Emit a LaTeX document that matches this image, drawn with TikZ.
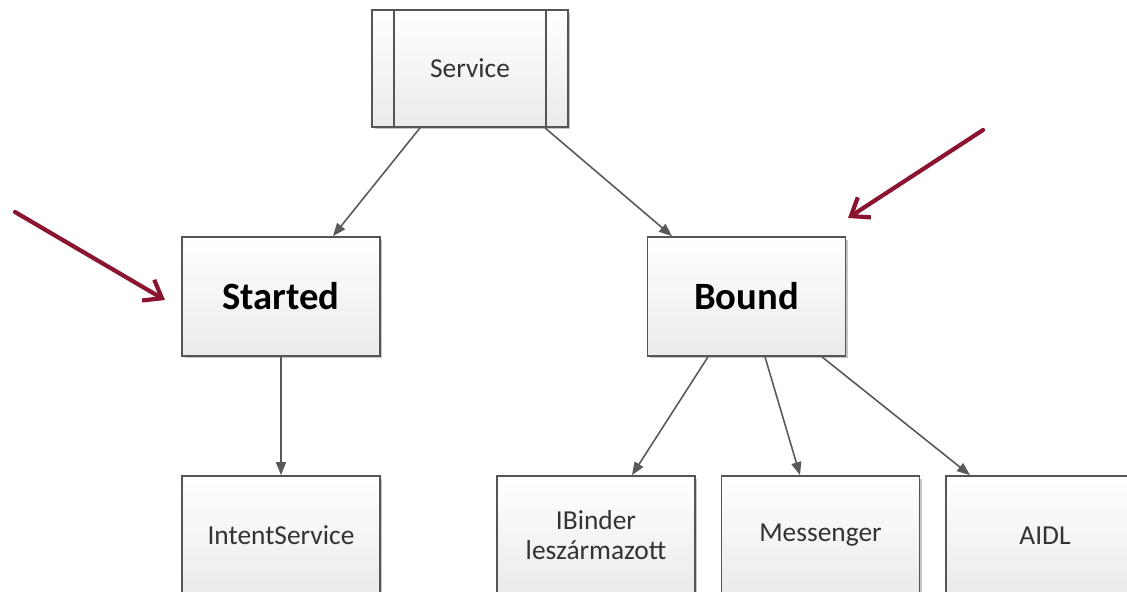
\documentclass[tikz,border=0pt]{standalone}
\usepackage{fontspec}
\setmainfont{Carlito}
\usetikzlibrary{arrows.meta, shadows}

\definecolor{boxline}{HTML}{555555}
\definecolor{redarrow}{HTML}{8B1530}

\tikzset{
  box/.style={draw=boxline, line width=1pt, minimum width=3.96cm, minimum height=2.38cm,
    top color=white, bottom color=black!8, align=center, text=black!80,
    font=\fontsize{15.6}{17}\selectfont,
    drop shadow={shadow xshift=0.05cm, shadow yshift=-0.05cm, fill=black!45, opacity=.5}},
  bigbox/.style={box, font=\fontsize{22}{24}\selectfont\bfseries, text=black},
  conn/.style={draw=black!65, line width=0.9pt, -{Triangle[length=0.26cm,width=0.2cm]}},
  pointer/.style={draw=redarrow, line width=2.4pt, line cap=round,
    -{Straight Barb[length=0.32cm,width=0.48cm,line width=2.4pt]}}
}

\begin{document}
\begin{tikzpicture}[x=0.02cm, y=-0.02cm]
\clip (0,0) rectangle (1127,592);
\useasboundingbox (0,0) rectangle (1127,592);

% top level
\node[box, minimum width=3.92cm, minimum height=2.34cm] (serv) at (470,68.5) {Service};
\draw[boxline, line width=1pt] ([xshift=0.46cm]serv.north west) -- ([xshift=0.46cm]serv.south west);
\draw[boxline, line width=1pt] ([xshift=-0.46cm]serv.north east) -- ([xshift=-0.46cm]serv.south east);

% the two kinds
\node[bigbox] (started) at (281,296.5) {Started};
\node[bigbox] (bound) at (746.5,296.5) {Bound};

% leaves
\node[box] (intent) at (281,535.5) {IntentService};
\node[box] (ibinder) at (596,535.5) {IBinder\\leszármazott};
\node[box] (messenger) at (820.5,535.5) {Messenger};
\node[box] (aidl) at (1045,535.5) {AIDL};

\draw[conn] ([xshift=-1cm]serv.south) -- ([xshift=1.04cm]started.north);
\draw[conn] ([xshift=1.5cm]serv.south) -- ([xshift=-1.49cm]bound.north);
\draw[conn] (started.south) -- (intent.north);
\draw[conn] ([xshift=-0.77cm]bound.south) -- ([xshift=0.72cm]ibinder.north);
\draw[conn] ([xshift=0.37cm]bound.south) -- ([xshift=-0.41cm]messenger.north);
\draw[conn] ([xshift=1.51cm]bound.south) -- ([xshift=-1.5cm]aidl.north);

% red pointers
\coordinate (p1s) at (15,212);
\coordinate (p1e) at (165,300);
\coordinate (p2s) at (983,130);
\coordinate (p2e) at (848,218);
\draw[pointer] (p1s) -- (p1e);
\draw[pointer] (p2s) -- (p2e);
\end{tikzpicture}
\end{document}
